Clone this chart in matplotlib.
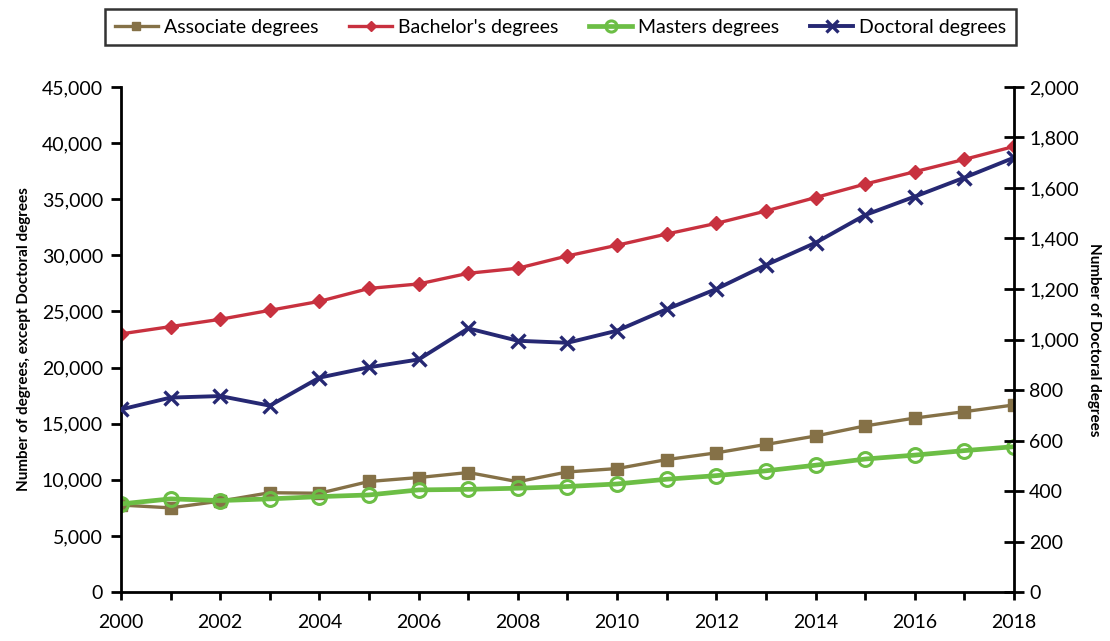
import matplotlib
matplotlib.use("Agg")
import matplotlib.pyplot as plt
from matplotlib.ticker import FuncFormatter, MultipleLocator

plt.rcParams['font.family'] = ['Lato', 'DejaVu Sans']

years = list(range(2000, 2019))

associate = [7750, 7500, 8100, 8850, 8800, 9850, 10200, 10650, 9830, 10700,
             11000, 11800, 12400, 13150, 13900, 14800, 15500, 16070, 16670]
bachelor = [23000, 23650, 24300, 25100, 25900, 27050, 27450, 28400, 28850, 29950,
            30900, 31900, 32850, 33950, 35150, 36350, 37450, 38550, 39700]
masters = [7850, 8300, 8150, 8300, 8500, 8650, 9100, 9150, 9250, 9400,
           9630, 10050, 10370, 10800, 11300, 11850, 12200, 12600, 12950]
doctoral = [723, 770, 776, 738, 849, 890, 921, 1044, 995, 987,
            1035, 1120, 1200, 1295, 1383, 1493, 1566, 1641, 1720]

fig = plt.figure(figsize=(11.1, 6.41), dpi=100)
ax = fig.add_axes([0.109, 0.0764, 0.8045, 0.7879])
ax2 = ax.twinx()

l1, = ax.plot(years, associate, color='#857147', lw=2.4, marker='s', ms=8,
              label='Associate degrees')
l2, = ax.plot(years, bachelor, color='#C8313F', lw=2.4, marker='D', ms=7,
              label="Bachelor's degrees")
l3, = ax.plot(years, masters, color='#6CBE45', lw=3.4, marker='o', ms=10,
              mfc='none', mew=2.2, label='Masters degrees')
l4, = ax2.plot(years, doctoral, color='#262873', lw=2.8, marker='x', ms=10,
               mew=2.4, label='Doctoral degrees')

ax.set_xlim(2000, 2018)
ax.set_ylim(0, 45000)
ax2.set_ylim(0, 2000)

ax.yaxis.set_major_locator(MultipleLocator(5000))
ax.yaxis.set_major_formatter(FuncFormatter(lambda v, p: f'{int(v):,}'))
ax2.yaxis.set_major_locator(MultipleLocator(200))
ax2.yaxis.set_major_formatter(FuncFormatter(lambda v, p: f'{int(v):,}'))
ax.xaxis.set_major_locator(MultipleLocator(2))
ax.xaxis.set_minor_locator(MultipleLocator(1))

for a in (ax, ax2):
    for s in a.spines.values():
        s.set_visible(False)
ax.spines['left'].set_visible(True)
ax.spines['bottom'].set_visible(True)
ax.spines['left'].set_linewidth(2)
ax.spines['bottom'].set_linewidth(2)
ax2.spines['right'].set_visible(True)
ax2.spines['right'].set_linewidth(2)

ax.tick_params(axis='y', direction='out', length=7, width=2, labelsize=14, pad=6)
ax.tick_params(axis='x', which='both', direction='out', length=6, width=2,
               labelsize=14, pad=10)
ax.tick_params(axis='x', which='minor', labelbottom=False)
ax2.tick_params(axis='y', direction='inout', length=14, width=2, labelsize=14, pad=4)

ax.set_ylabel('Number of degrees, except Doctoral degrees', fontsize=11,
              fontweight='bold', labelpad=8)
ax2.set_ylabel('Number of Doctoral degrees', fontsize=11, fontweight='bold',
               rotation=-90, labelpad=16)

leg = fig.legend(handles=[l1, l2, l3, l4], loc='upper center', ncol=4,
                 bbox_to_anchor=(0.505, 0.995), fontsize=14, frameon=True,
                 fancybox=False, edgecolor='black', markerscale=0.8,
                 handlelength=2.2, handletextpad=0.3, columnspacing=1.6,
                 borderpad=0.5, borderaxespad=0.3)
leg.get_frame().set_linewidth(1.8)

fig.savefig('out.png', dpi=100)
